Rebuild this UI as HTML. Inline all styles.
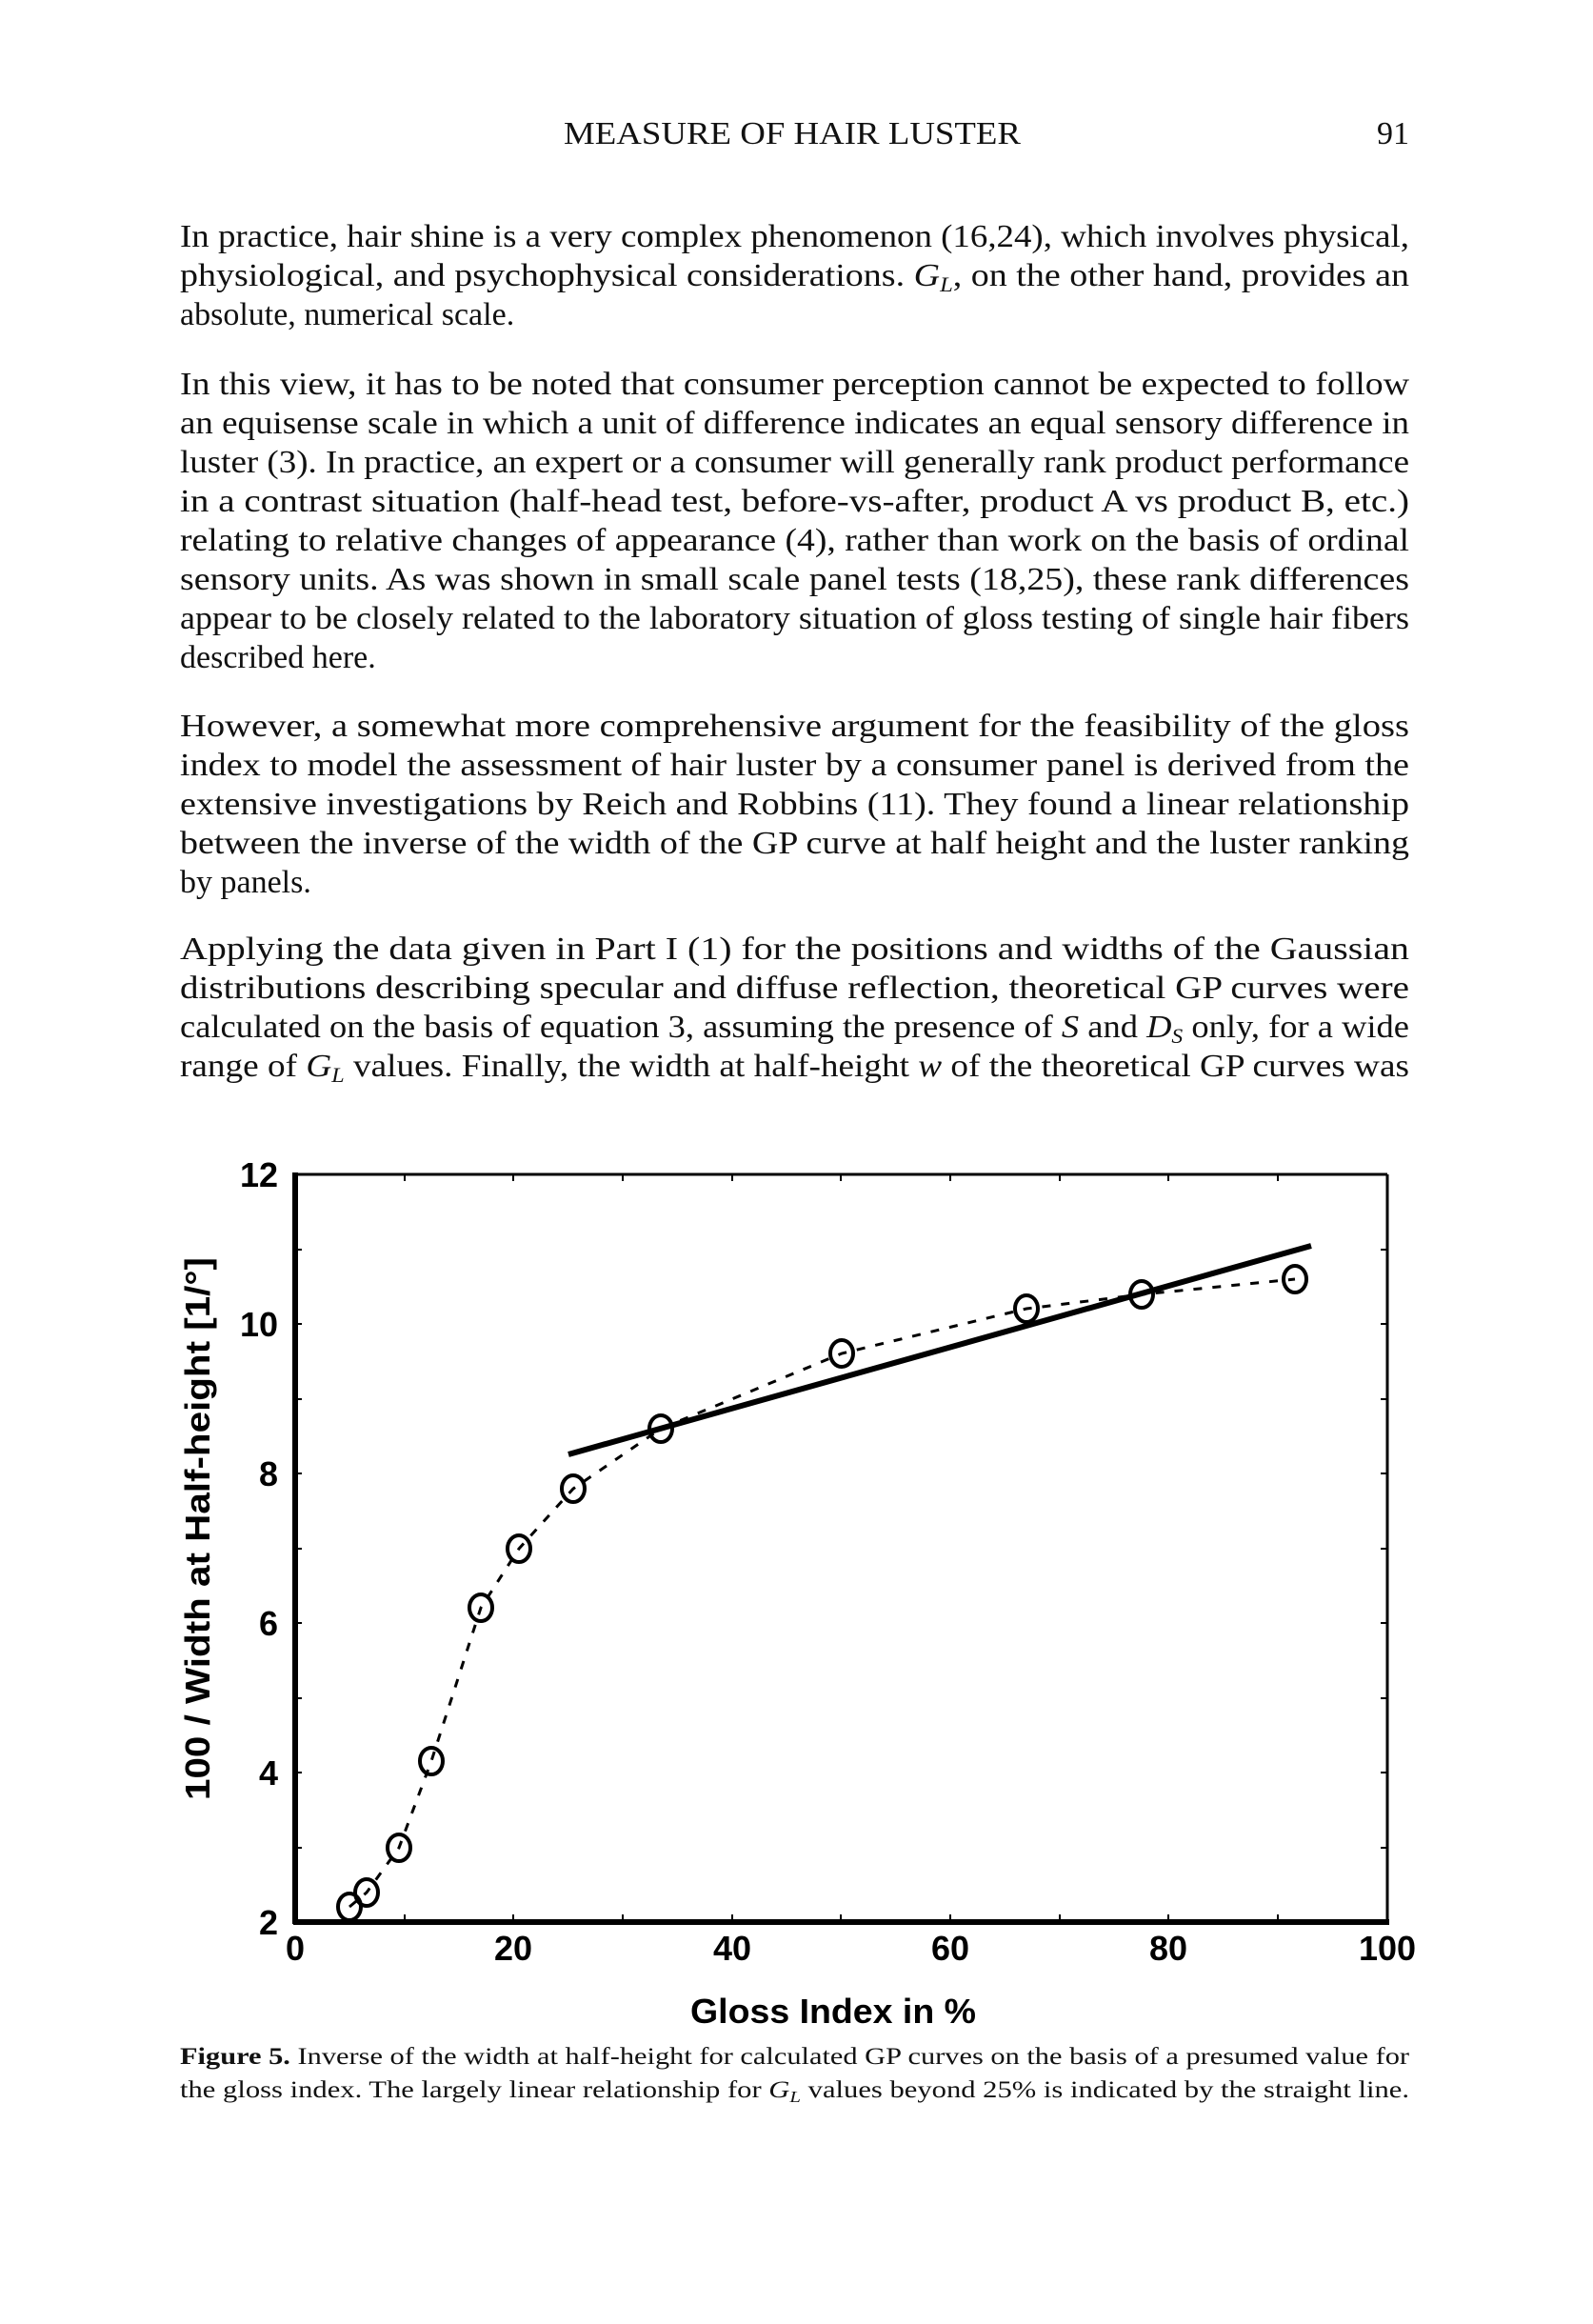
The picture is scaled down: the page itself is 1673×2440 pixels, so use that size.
<!DOCTYPE html>
<html><head><meta charset="utf-8"><style>
html,body{margin:0;padding:0;background:#fff;}
svg{display:block;}
.b{font-family:"Liberation Serif",serif;font-size:34px;fill:#111;}
.c{font-family:"Liberation Serif",serif;font-size:25px;fill:#111;}
.a{font-family:"Liberation Sans",sans-serif;font-size:36px;font-weight:bold;fill:#000;}
.ab{font-family:"Liberation Sans",sans-serif;font-size:36px;font-weight:bold;fill:#000;}
</style></head><body>
<svg width="1673" height="2440" viewBox="0 0 1673 2440" xmlns="http://www.w3.org/2000/svg">
<rect width="1673" height="2440" fill="#fff"/>
<text class="b" x="832" y="151" text-anchor="middle" textLength="480" lengthAdjust="spacingAndGlyphs">MEASURE OF HAIR LUSTER</text>
<text class="b" x="1480" y="151" text-anchor="end">91</text>

<g class="b">
<text x="189" y="259" textLength="1291" lengthAdjust="spacingAndGlyphs">In practice, hair shine is a very complex phenomenon (16,24), which involves physical,</text>
<text x="189" y="300" textLength="1291" lengthAdjust="spacingAndGlyphs">physiological, and psychophysical considerations. <tspan font-style="italic">G<tspan font-size="22" dy="6">L</tspan></tspan><tspan dy="-6">, on the other hand, provides an</tspan></text>
<text x="189" y="341">absolute, numerical scale.</text>

<text x="189" y="414" textLength="1291" lengthAdjust="spacingAndGlyphs">In this view, it has to be noted that consumer perception cannot be expected to follow</text>
<text x="189" y="455" textLength="1291" lengthAdjust="spacingAndGlyphs">an equisense scale in which a unit of difference indicates an equal sensory difference in</text>
<text x="189" y="496" textLength="1291" lengthAdjust="spacingAndGlyphs">luster (3). In practice, an expert or a consumer will generally rank product performance</text>
<text x="189" y="537" textLength="1291" lengthAdjust="spacingAndGlyphs">in a contrast situation (half-head test, before-vs-after, product A vs product B, etc.)</text>
<text x="189" y="578" textLength="1291" lengthAdjust="spacingAndGlyphs">relating to relative changes of appearance (4), rather than work on the basis of ordinal</text>
<text x="189" y="619" textLength="1291" lengthAdjust="spacingAndGlyphs">sensory units. As was shown in small scale panel tests (18,25), these rank differences</text>
<text x="189" y="660" textLength="1291" lengthAdjust="spacingAndGlyphs">appear to be closely related to the laboratory situation of gloss testing of single hair fibers</text>
<text x="189" y="701">described here.</text>

<text x="189" y="773" textLength="1291" lengthAdjust="spacingAndGlyphs">However, a somewhat more comprehensive argument for the feasibility of the gloss</text>
<text x="189" y="814" textLength="1291" lengthAdjust="spacingAndGlyphs">index to model the assessment of hair luster by a consumer panel is derived from the</text>
<text x="189" y="855" textLength="1291" lengthAdjust="spacingAndGlyphs">extensive investigations by Reich and Robbins (11). They found a linear relationship</text>
<text x="189" y="896" textLength="1291" lengthAdjust="spacingAndGlyphs">between the inverse of the width of the GP curve at half height and the luster ranking</text>
<text x="189" y="937">by panels.</text>

<text x="189" y="1007" textLength="1291" lengthAdjust="spacingAndGlyphs">Applying the data given in Part I (1) for the positions and widths of the Gaussian</text>
<text x="189" y="1048" textLength="1291" lengthAdjust="spacingAndGlyphs">distributions describing specular and diffuse reflection, theoretical GP curves were</text>
<text x="189" y="1089" textLength="1291" lengthAdjust="spacingAndGlyphs">calculated on the basis of equation 3, assuming the presence of <tspan font-style="italic">S</tspan> and <tspan font-style="italic">D<tspan font-size="22" dy="6">S</tspan></tspan><tspan dy="-6"> only, for a wide</tspan></text>
<text x="189" y="1130" textLength="1291" lengthAdjust="spacingAndGlyphs">range of <tspan font-style="italic">G<tspan font-size="22" dy="6">L</tspan></tspan><tspan dy="-6"> values. Finally, the width at half-height </tspan><tspan font-style="italic">w</tspan> of the theoretical GP curves was</text>
</g>

<line x1="310" y1="1233" x2="1457" y2="1233" stroke="#000" stroke-width="3"/>
<line x1="1457" y1="1233" x2="1457" y2="2018" stroke="#000" stroke-width="3"/>
<line x1="310" y1="1231" x2="310" y2="2020" stroke="#000" stroke-width="6"/>
<line x1="308" y1="2018" x2="1459" y2="2018" stroke="#000" stroke-width="6"/>
<g stroke="#000" stroke-width="2">
<line x1="425" y1="1233" x2="425" y2="1240"/><line x1="539" y1="1233" x2="539" y2="1240"/><line x1="654" y1="1233" x2="654" y2="1240"/><line x1="769" y1="1233" x2="769" y2="1240"/><line x1="883" y1="1233" x2="883" y2="1240"/><line x1="998" y1="1233" x2="998" y2="1240"/><line x1="1113" y1="1233" x2="1113" y2="1240"/><line x1="1227" y1="1233" x2="1227" y2="1240"/><line x1="1342" y1="1233" x2="1342" y2="1240"/>
<line x1="425" y1="2018" x2="425" y2="2010"/><line x1="539" y1="2018" x2="539" y2="2010"/><line x1="654" y1="2018" x2="654" y2="2010"/><line x1="769" y1="2018" x2="769" y2="2010"/><line x1="883" y1="2018" x2="883" y2="2010"/><line x1="998" y1="2018" x2="998" y2="2010"/><line x1="1113" y1="2018" x2="1113" y2="2010"/><line x1="1227" y1="2018" x2="1227" y2="2010"/><line x1="1342" y1="2018" x2="1342" y2="2010"/>
<line x1="310" y1="1312" x2="317" y2="1312"/><line x1="310" y1="1390" x2="317" y2="1390"/><line x1="310" y1="1469" x2="317" y2="1469"/><line x1="310" y1="1547" x2="317" y2="1547"/><line x1="310" y1="1626" x2="317" y2="1626"/><line x1="310" y1="1704" x2="317" y2="1704"/><line x1="310" y1="1783" x2="317" y2="1783"/><line x1="310" y1="1861" x2="317" y2="1861"/><line x1="310" y1="1940" x2="317" y2="1940"/>
<line x1="1457" y1="1312" x2="1450" y2="1312"/><line x1="1457" y1="1390" x2="1450" y2="1390"/><line x1="1457" y1="1469" x2="1450" y2="1469"/><line x1="1457" y1="1547" x2="1450" y2="1547"/><line x1="1457" y1="1626" x2="1450" y2="1626"/><line x1="1457" y1="1704" x2="1450" y2="1704"/><line x1="1457" y1="1783" x2="1450" y2="1783"/><line x1="1457" y1="1861" x2="1450" y2="1861"/><line x1="1457" y1="1940" x2="1450" y2="1940"/>
</g>
<g class="a" text-anchor="end">
<text x="292" y="1246">12</text><text x="292" y="1403">10</text><text x="292" y="1560">8</text>
<text x="292" y="1717">6</text><text x="292" y="1874">4</text><text x="292" y="2031">2</text>
</g>
<g class="a" text-anchor="middle">
<text x="310" y="2058">0</text><text x="539" y="2058">20</text><text x="769" y="2058">40</text>
<text x="998" y="2058">60</text><text x="1227" y="2058">80</text><text x="1457" y="2058">100</text>
</g>
<text class="ab" x="875" y="2124" text-anchor="middle" textLength="300" lengthAdjust="spacingAndGlyphs">Gloss Index in %</text>
<text class="ab" transform="translate(220,1605) rotate(-90)" text-anchor="middle" textLength="570" lengthAdjust="spacingAndGlyphs">100 / Width at Half-height  [1/°]</text>

<polyline fill="none" stroke="#000" stroke-width="3" stroke-dasharray="9 11" points="367,2002 385,1987 419,1940 453,1849 505,1688 545,1626 602,1563 694,1500 884,1421 1078,1374 1199,1359 1360,1343"/>
<line x1="597" y1="1527" x2="1377" y2="1308" stroke="#000" stroke-width="6"/>
<g fill="none" stroke="#000" stroke-width="4">
<ellipse cx="367" cy="2002" rx="12" ry="14"/><ellipse cx="385" cy="1987" rx="12" ry="14"/>
<ellipse cx="419" cy="1940" rx="12" ry="14"/><ellipse cx="453" cy="1849" rx="12" ry="14"/>
<ellipse cx="505" cy="1688" rx="12" ry="14"/><ellipse cx="545" cy="1626" rx="12" ry="14"/>
<ellipse cx="602" cy="1563" rx="12" ry="14"/><ellipse cx="694" cy="1500" rx="12" ry="14"/>
<ellipse cx="884" cy="1421" rx="12" ry="14"/><ellipse cx="1078" cy="1374" rx="12" ry="14"/>
<ellipse cx="1199" cy="1359" rx="12" ry="14"/><ellipse cx="1360" cy="1343" rx="12" ry="14"/>
</g>

<g class="c">
<text x="189" y="2167" textLength="1291" lengthAdjust="spacingAndGlyphs"><tspan font-weight="bold">Figure 5.</tspan> Inverse of the width at half-height for calculated GP curves on the basis of a presumed value for</text>
<text x="189" y="2202" textLength="1291" lengthAdjust="spacingAndGlyphs">the gloss index. The largely linear relationship for <tspan font-style="italic">G<tspan font-size="17" dy="5">L</tspan></tspan><tspan dy="-5"> values beyond 25% is indicated by the straight line.</tspan></text>
</g>
</svg>
</body></html>
